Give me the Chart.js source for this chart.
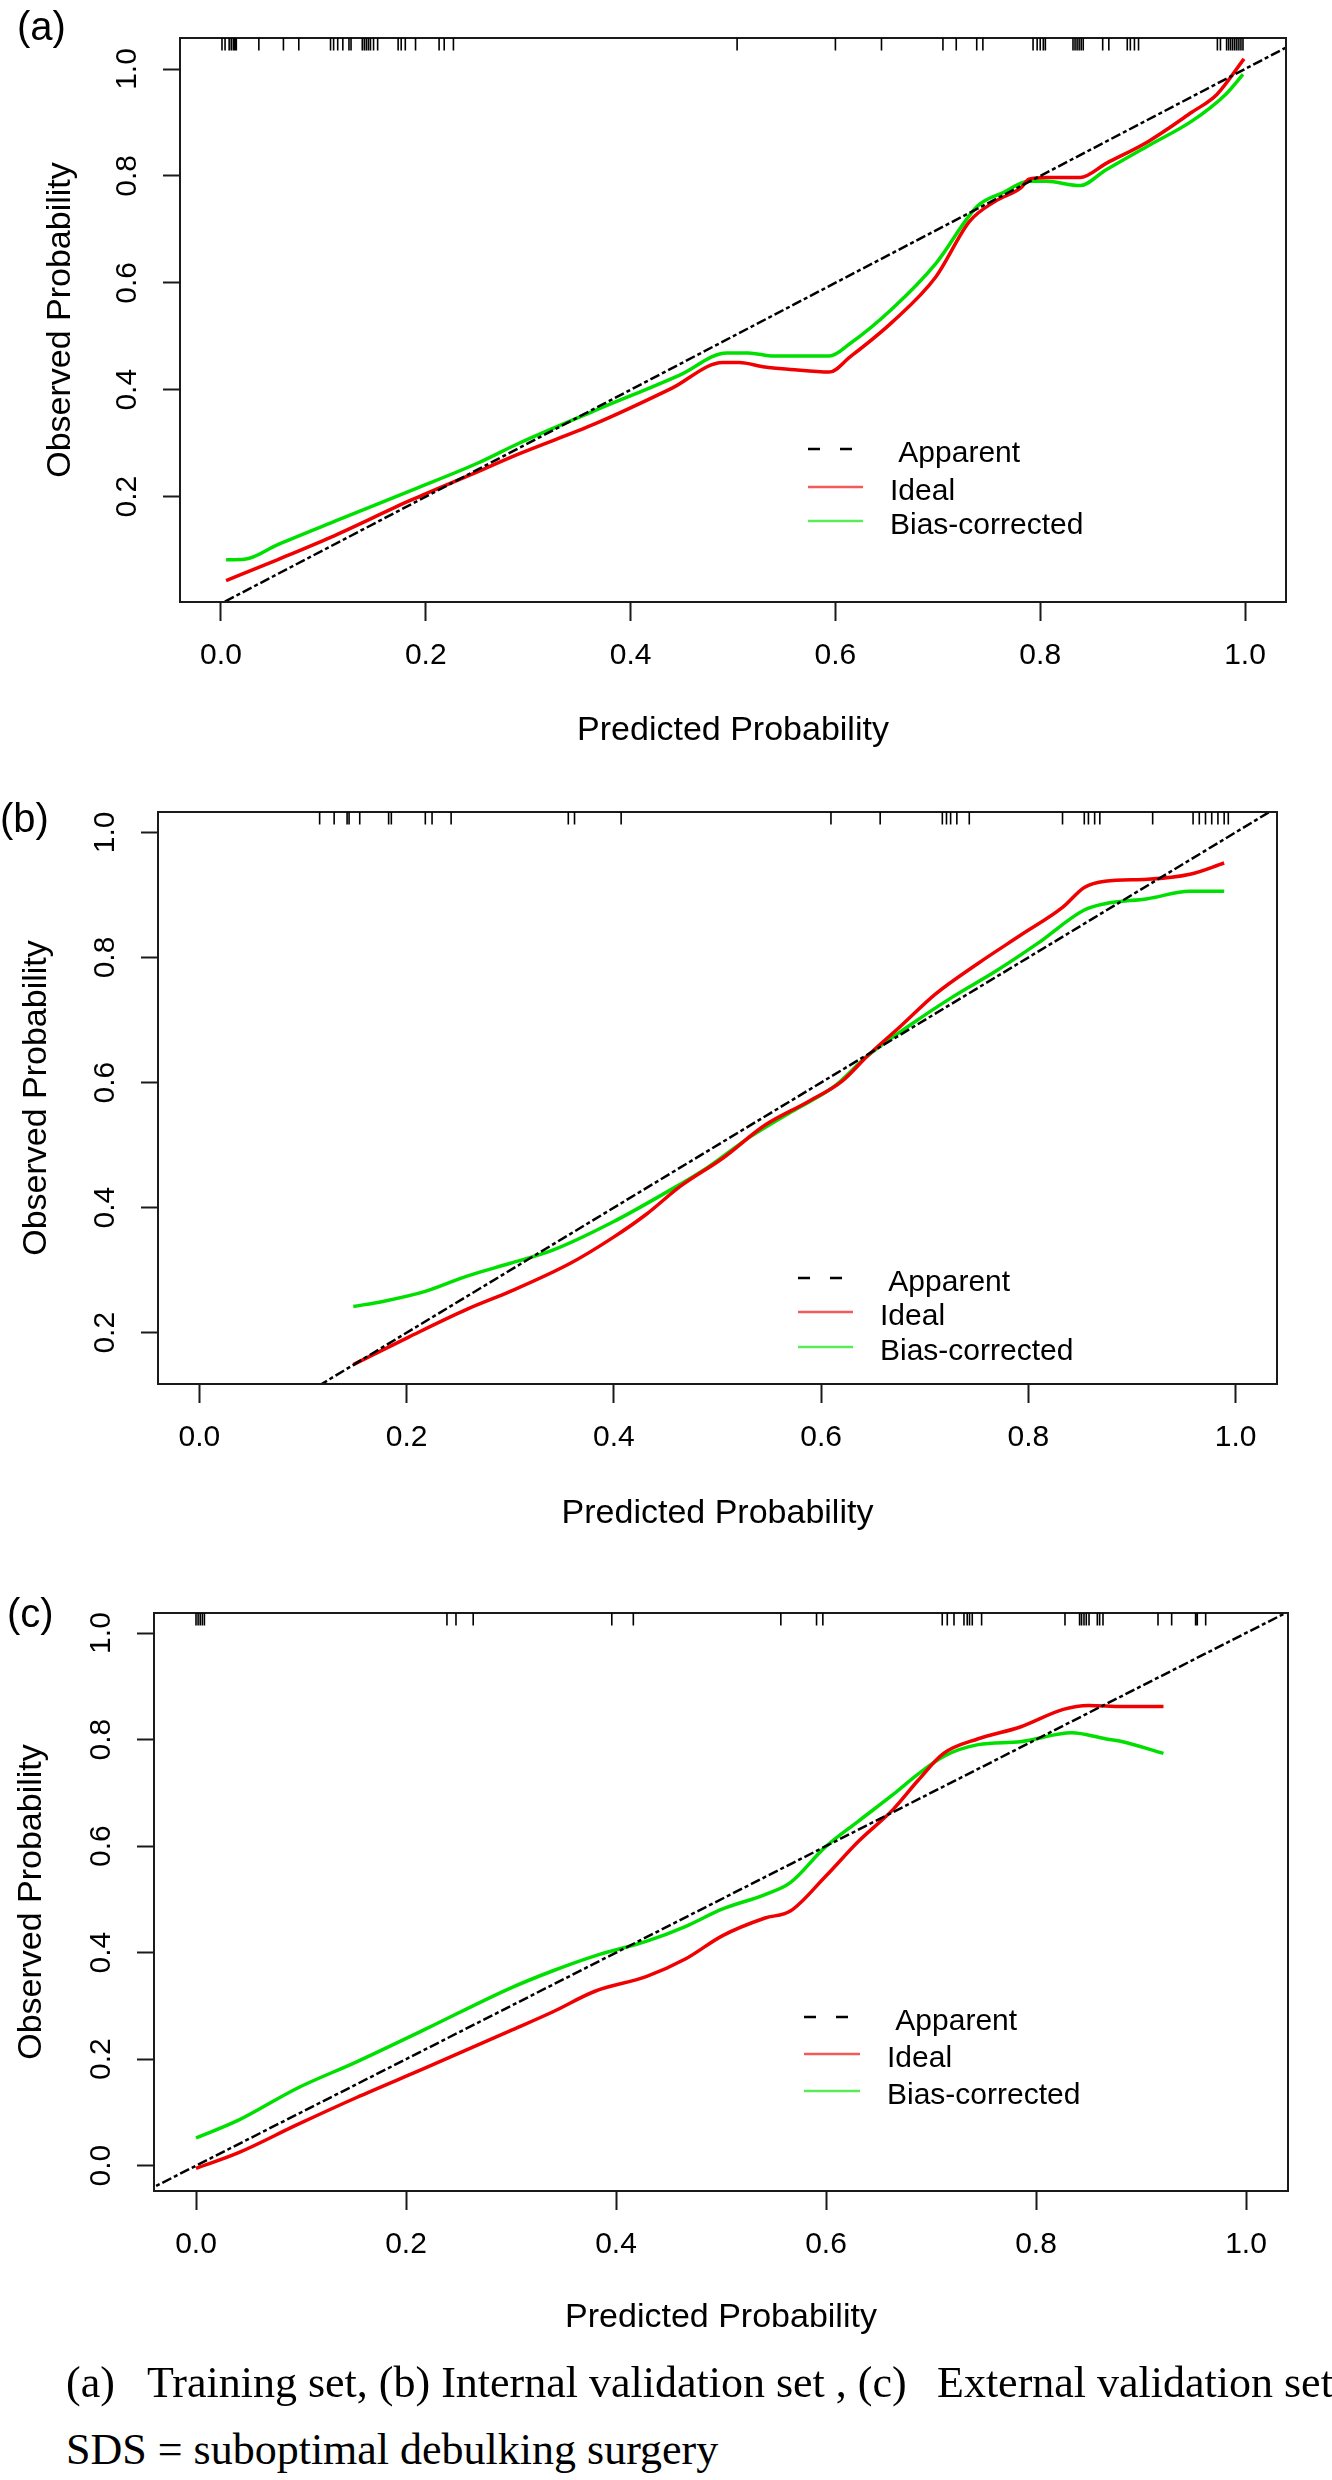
<!DOCTYPE html>
<html>
<head>
<meta charset="utf-8">
<script src="https://cdn.jsdelivr.net/npm/chart.js@4.4.1/dist/chart.umd.min.js"></script>
<style>
html,body{margin:0;padding:0;background:#fff;}
body{width:1332px;height:2480px;position:relative;overflow:hidden;}
canvas{position:absolute;left:0;}
.lab{position:absolute;font-family:"Liberation Sans",Arial,sans-serif;font-size:40px;line-height:40px;color:#000;white-space:nowrap;}
.cap{position:absolute;font-family:"Liberation Serif","Times New Roman",serif;font-size:44px;line-height:44px;color:#000;white-space:nowrap;}
</style>
</head>
<body>
<canvas id="ca" width="1332" height="780" style="top:0px"></canvas>
<canvas id="cb" width="1332" height="780" style="top:780px"></canvas>
<canvas id="cc" width="1332" height="800" style="top:1560px"></canvas>
<div class="lab" style="left:17px;top:6px">(a)</div>
<div class="lab" style="left:0px;top:798px">(b)</div>
<div class="lab" style="left:7px;top:1593px">(c)</div>
<div class="cap" style="left:66px;top:2361px">(a)</div>
<div class="cap" style="left:147px;top:2361px">Training set, (b) Internal validation set , (c)</div>
<div class="cap" style="left:937px;top:2361px">External validation set</div>
<div class="cap" style="left:66px;top:2428px">SDS = suboptimal debulking surgery</div>
<script>
// ---------- DATA ----------
const legendLabels = [' Apparent', 'Ideal', 'Bias-corrected'];
const xTickValues = [0.0, 0.2, 0.4, 0.6, 0.8, 1.0];
const yTicksA = [0.2, 0.4, 0.6, 0.8, 1.0];
const yTicksB = [0.2, 0.4, 0.6, 0.8, 1.0];
const yTicksC = [0.0, 0.2, 0.4, 0.6, 0.8, 1.0];
const diagX = [-0.1, 1.1];
const diagY = [-0.1, 1.1];

// (a) Training set
const aIdealX = [0.005, 0.055, 0.107, 0.186, 0.251, 0.291, 0.365, 0.44, 0.49, 0.506, 0.531, 0.556, 0.594, 0.614, 0.656, 0.698, 0.731, 0.756, 0.781, 0.789, 0.806, 0.839, 0.864, 0.906, 0.948, 0.9725, 0.999];
const aIdealY = [0.043, 0.082, 0.124, 0.194, 0.247, 0.280, 0.336, 0.4025, 0.451, 0.451, 0.4425, 0.438, 0.433, 0.461, 0.5275, 0.611, 0.715, 0.7525, 0.7775, 0.794, 0.797, 0.797, 0.823, 0.865, 0.919, 0.9525, 1.019];
const aBiasX = [0.005, 0.023, 0.055, 0.115, 0.186, 0.251, 0.291, 0.365, 0.448, 0.494, 0.515, 0.54, 0.594, 0.614, 0.656, 0.698, 0.739, 0.764, 0.789, 0.806, 0.839, 0.864, 0.906, 0.948, 0.981, 0.998];
const aBiasY = [0.082, 0.083, 0.110, 0.157, 0.212, 0.263, 0.300, 0.361, 0.4275, 0.469, 0.469, 0.463, 0.463, 0.486, 0.5525, 0.636, 0.744, 0.769, 0.79, 0.79, 0.782, 0.811, 0.857, 0.9025, 0.9525, 0.99];
const aRug = [0.001, 0.004, 0.008, 0.010, 0.012, 0.0135, 0.015, 0.037, 0.061, 0.076, 0.107, 0.110, 0.114, 0.119, 0.125, 0.127, 0.138, 0.140, 0.142, 0.144, 0.146, 0.149, 0.153, 0.173, 0.176, 0.180, 0.190, 0.213, 0.218, 0.227, 0.504, 0.600, 0.645, 0.705, 0.718, 0.738, 0.744, 0.793, 0.797, 0.800, 0.803, 0.805, 0.832, 0.834, 0.836, 0.838, 0.840, 0.842, 0.861, 0.867, 0.885, 0.888, 0.892, 0.896, 0.973, 0.976, 0.982, 0.984, 0.986, 0.988, 0.990, 0.992, 0.994, 0.996, 0.998];

// (b) Internal validation set
const bIdealX = [0.1485, 0.202, 0.259, 0.30, 0.358, 0.399, 0.431, 0.464, 0.505, 0.546, 0.587, 0.62, 0.645, 0.678, 0.71, 0.751, 0.792, 0.833, 0.854, 0.874, 0.915, 0.956, 0.989];
const bIdealY = [0.149, 0.193, 0.238, 0.266, 0.311, 0.352, 0.389, 0.434, 0.479, 0.532, 0.569, 0.602, 0.643, 0.692, 0.741, 0.790, 0.835, 0.880, 0.912, 0.922, 0.925, 0.933, 0.951];
const bBiasX = [0.1485, 0.177, 0.218, 0.259, 0.30, 0.341, 0.399, 0.448, 0.489, 0.53, 0.571, 0.612, 0.645, 0.686, 0.727, 0.768, 0.809, 0.854, 0.874, 0.915, 0.956, 0.989];
const bBiasY = [0.242, 0.25, 0.266, 0.291, 0.311, 0.332, 0.377, 0.422, 0.4626, 0.5116, 0.553, 0.593, 0.643, 0.692, 0.737, 0.7775, 0.8225, 0.876, 0.886, 0.894, 0.906, 0.906];
const bRug = [0.116, 0.130, 0.1425, 0.1444, 0.1547, 0.1826, 0.1852, 0.218, 0.2245, 0.2429, 0.356, 0.362, 0.407, 0.6095, 0.657, 0.717, 0.721, 0.725, 0.731, 0.743, 0.833, 0.854, 0.858, 0.864, 0.869, 0.920, 0.959, 0.965, 0.971, 0.977, 0.983, 0.989, 0.993];

// (c) External validation set
const cIdealX = [0.0, 0.04, 0.0964, 0.153, 0.218, 0.299, 0.34, 0.38, 0.4287, 0.466, 0.5016, 0.542, 0.566, 0.599, 0.631, 0.664, 0.688, 0.712, 0.745, 0.785, 0.826, 0.85, 0.8825, 0.9214];
const cIdealY = [-0.005, 0.024, 0.077, 0.128, 0.183, 0.253, 0.289, 0.3275, 0.355, 0.388, 0.432, 0.465, 0.478, 0.542, 0.609, 0.669, 0.724, 0.774, 0.8015, 0.8236, 0.8567, 0.864, 0.862, 0.862];
const cBiasX = [0.0, 0.04, 0.0964, 0.153, 0.218, 0.299, 0.34, 0.38, 0.4287, 0.466, 0.5016, 0.542, 0.566, 0.599, 0.631, 0.664, 0.688, 0.712, 0.745, 0.785, 0.834, 0.866, 0.8825, 0.9214];
const cBiasY = [0.052, 0.085, 0.1455, 0.195, 0.2558, 0.333, 0.366, 0.394, 0.421, 0.449, 0.482, 0.509, 0.5314, 0.5976, 0.647, 0.697, 0.7354, 0.7685, 0.7905, 0.796, 0.8126, 0.8015, 0.796, 0.774];
const cRug = [0.0, 0.002, 0.004, 0.006, 0.008, 0.239, 0.2476, 0.264, 0.396, 0.4165, 0.557, 0.591, 0.597, 0.7107, 0.7155, 0.7219, 0.7314, 0.7345, 0.7367, 0.7393, 0.7482, 0.8276, 0.8415, 0.8434, 0.8457, 0.8479, 0.8505, 0.8584, 0.8606, 0.8638, 0.9162, 0.9292, 0.9520, 0.9536, 0.9616];

// ---------- STYLE / LAYOUT ----------
const FONT = '"Liberation Sans", Arial, Helvetica, sans-serif';
const RED = '#f00000', GREEN = '#00e000', INK = '#1a1a1a';
const panels = [
  {id:'ca', H:780, L:180, R:1286, T:38, B:602, yMin:0.003, yMax:1.058, yTicks:yTicksA, rug:aRug,
   ideal:[aIdealX,aIdealY], bias:[aBiasX,aBiasY], yTitleX:61, xTitleY:731,
   leg:{x1:808, x2:863, tx:890, rows:[449, 487, 521]}},
  {id:'cb', H:780, L:158, R:1277, T:32, B:604, yMin:0.118, yMax:1.0326, yTicks:yTicksB, rug:bRug,
   ideal:[bIdealX,bIdealY], bias:[bBiasX,bBiasY], yTitleX:37, xTitleY:734,
   leg:{x1:798, x2:853, tx:880, rows:[498, 532, 567]}},
  {id:'cc', H:800, L:154, R:1288, T:53, B:631, yMin:-0.0475, yMax:1.0376, yTicks:yTicksC, rug:cRug,
   ideal:[cIdealX,cIdealY], bias:[cBiasX,cBiasY], yTitleX:32, xTitleY:758,
   leg:{x1:804, x2:860, tx:887, rows:[457, 494, 531]}}
];

const zip = (xs, ys) => xs.map((x, i) => ({x: x, y: ys[i]}));

const rPlot = {
  id: 'rPlot',
  afterDraw(chart, args, o) {
    const ctx = chart.ctx, a = chart.chartArea, xs = chart.scales.x, ys = chart.scales.y;
    ctx.save();
    // plot box
    ctx.strokeStyle = INK; ctx.lineWidth = 2; ctx.setLineDash([]);
    ctx.strokeRect(a.left, a.top, a.right - a.left, a.bottom - a.top);
    // rug of predicted probabilities at the top
    ctx.strokeStyle = '#000'; ctx.lineWidth = 1.6;
    ctx.beginPath();
    o.rug.forEach(v => {
      const px = xs.getPixelForValue(v);
      ctx.moveTo(px, a.top); ctx.lineTo(px, a.top + 12.5);
    });
    ctx.stroke();
    // rotated y tick labels (R las=0 style)
    ctx.fillStyle = '#000';
    ctx.font = '30px ' + FONT;
    ctx.textAlign = 'center'; ctx.textBaseline = 'middle';
    ys.ticks.forEach(t => {
      const py = ys.getPixelForValue(t.value);
      ctx.save(); ctx.translate(a.left - 52, py); ctx.rotate(-Math.PI / 2);
      ctx.fillText(t.value.toFixed(1), 0, 0);
      ctx.restore();
    });
    // legend
    const L = o.leg;
    chart.data.datasets.forEach((ds, i) => {
      const y = L.rows[i];
      ctx.save();
      ctx.strokeStyle = ds.borderColor;
      ctx.lineWidth = i === 0 ? 2.5 : 2.5;
      ctx.globalAlpha = i === 0 ? 1 : 0.65;
      ctx.setLineDash(i === 0 ? [12, 20] : []);
      ctx.beginPath(); ctx.moveTo(L.x1, y); ctx.lineTo(L.x2, y); ctx.stroke();
      ctx.restore();
      ctx.fillStyle = '#000'; ctx.textAlign = 'left'; ctx.textBaseline = 'alphabetic';
      ctx.font = '30px ' + FONT;
      ctx.fillText(ds.label, L.tx, y + 13.3);
    });
    ctx.restore();
  }
};

panels.forEach(p => {
  const xScaleH = p.H - p.B;
  new Chart(document.getElementById(p.id), {
    type: 'line',
    data: {
      datasets: [
        {label: legendLabels[0], data: zip(diagX, diagY), borderColor: '#000', borderWidth: 2.5,
         borderDash: [10, 3, 4, 3], pointRadius: 0, tension: 0, fill: false},
        {label: legendLabels[1], data: zip(p.ideal[0], p.ideal[1]), borderColor: RED, borderWidth: 3.5,
         pointRadius: 0, cubicInterpolationMode: 'monotone', fill: false},
        {label: legendLabels[2], data: zip(p.bias[0], p.bias[1]), borderColor: GREEN, borderWidth: 3.5,
         pointRadius: 0, cubicInterpolationMode: 'monotone', fill: false}
      ]
    },
    options: {
      responsive: false, animation: false, devicePixelRatio: 1,
      layout: {padding: {left: 0, right: 1332 - p.R, top: p.T, bottom: 0}},
      plugins: {legend: {display: false}, tooltip: {enabled: false}, rPlot: {rug: p.rug, leg: p.leg}},
      scales: {
        x: {
          type: 'linear', min: -0.04, max: 1.04,
          afterBuildTicks: s => { s.ticks = xTickValues.map(v => ({value: v})); },
          afterFit: s => { s.height = xScaleH; },
          ticks: {color: '#000', font: {family: FONT, size: 30, lineHeight: 1.2}, padding: 17,
                  maxRotation: 0, minRotation: 0, autoSkip: false, callback: v => Number(v).toFixed(1)},
          grid: {drawOnChartArea: false, drawTicks: true, tickLength: 19, tickWidth: 2, tickColor: INK},
          border: {display: false},
          title: {display: true, text: 'Predicted Probability', color: '#000',
                  font: {family: FONT, size: 34, lineHeight: 1.2},
                  padding: {top: 0, bottom: p.H - p.xTitleY - 20.4}}
        },
        y: {
          type: 'linear', min: p.yMin, max: p.yMax,
          afterBuildTicks: s => { s.ticks = p.yTicks.map(v => ({value: v})); },
          afterFit: s => { s.width = p.L; },
          ticks: {color: 'rgba(0,0,0,0)', font: {family: FONT, size: 30}, autoSkip: false},
          grid: {drawOnChartArea: false, drawTicks: true, tickLength: 17, tickWidth: 2, tickColor: INK},
          border: {display: false},
          title: {display: true, text: 'Observed Probability', color: '#000',
                  font: {family: FONT, size: 34, lineHeight: 1.2},
                  padding: {top: p.yTitleX - 20.4, bottom: 0}}
        }
      }
    },
    plugins: [rPlot]
  });
});
</script>
</body>
</html>
